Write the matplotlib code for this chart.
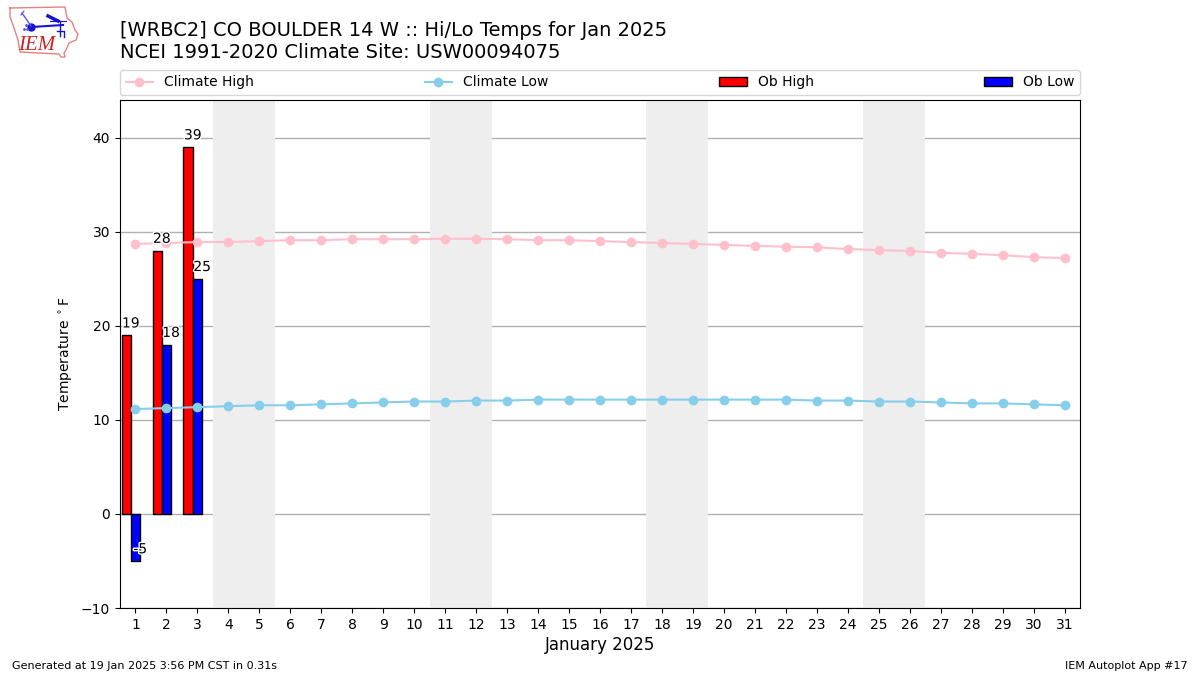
import matplotlib
matplotlib.use('Agg')
import matplotlib.pyplot as plt
import matplotlib.patheffects as pe
import numpy as np

# data
days = list(range(1, 32))
climate_high = [28.7, 28.8, 28.9, 28.9, 29.0, 29.1, 29.1, 29.2, 29.2, 29.2, 29.25, 29.25, 29.2, 29.1, 29.1, 29.0,
                28.9, 28.8, 28.7, 28.6, 28.5, 28.4, 28.35, 28.15, 28.05, 27.95, 27.75, 27.65, 27.5, 27.3, 27.2]
climate_low = [11.15, 11.25, 11.35, 11.45, 11.55, 11.55, 11.65, 11.75, 11.85, 11.95, 11.95, 12.05, 12.05, 12.15, 12.15, 12.15,
               12.15, 12.15, 12.15, 12.15, 12.15, 12.15, 12.05, 12.05, 11.95, 11.95, 11.85, 11.75, 11.75, 11.65, 11.55]
ob_days = [1, 2, 3]
ob_high = [19, 28, 39]
ob_low = [-5, 18, 25]
weekends = [(3.5, 5.5), (10.5, 12.5), (17.5, 19.5), (24.5, 26.5)]

fig = plt.figure(figsize=(12, 6.75), dpi=100)
ax = fig.add_axes([0.1, 67 / 675, 0.8, 508 / 675])

# weekend shading
for start, end in weekends:
    ax.axvspan(start, end, color='#eeeeee', lw=0, zorder=1)

ax.plot(days, climate_high, color='pink', marker='o', lw=1.5, ms=6, label='Climate High', zorder=4)
ax.plot(days, climate_low, color='skyblue', marker='o', lw=1.5, ms=6, label='Climate Low', zorder=4)

obx = np.array(ob_days)
ax.bar(obx - 0.3, ob_high, width=0.3, color='r', edgecolor='k', lw=1, label='Ob High', zorder=3)
ax.bar(obx, ob_low, width=0.3, color='b', edgecolor='k', lw=1, label='Ob Low', zorder=3)

# value labels
halo = [pe.withStroke(linewidth=2, foreground='white')]
for x, hi, lo in zip(ob_days, ob_high, ob_low):
    ax.text(x - 0.15, hi + 0.5, str(hi), ha='center', va='bottom', fontsize=10, path_effects=halo, zorder=5)
    ax.text(x + 0.15, lo + 0.5, str(lo), ha='center', va='bottom', fontsize=10, path_effects=halo, zorder=5)

ax.set_xlim(0.5, 31.5)
ax.set_ylim(-10, 44)
ax.set_xticks(days)
ax.set_yticks([-10, 0, 10, 20, 30, 40])
ax.tick_params(labelsize=10)
ax.grid(axis='y', color='#b0b0b0', lw=1, zorder=2)
ax.set_axisbelow(True)
ax.set_xlabel('January 2025', fontsize=12, labelpad=3)
ax.set_ylabel(r'Temperature $^\circ$F', fontsize=10, labelpad=4)

ax.legend(loc='lower left', bbox_to_anchor=(0, 1.0098, 1, 0.05), mode='expand', ncol=4, borderaxespad=0, fontsize=10)

# titles + footer
fig.text(0.1, 1 - 30 / 675, '[WRBC2] CO BOULDER 14 W :: Hi/Lo Temps for Jan 2025', fontsize=14, va='center')
fig.text(0.1, 1 - 52 / 675, 'NCEI 1991-2020 Climate Site: USW00094075', fontsize=14, va='center')
fig.text(0.01, 1 - 666 / 675, 'Generated at 19 Jan 2025 3:56 PM CST in 0.31s', fontsize=8, va='center')
fig.text(0.99, 1 - 666 / 675, 'IEM Autoplot App #17', fontsize=8, va='center', ha='right')

# IEM logo, rough redraw in pixel units
logo = fig.add_axes([0, 1 - 65 / 675, 90 / 1200, 65 / 675])
logo.set_xlim(0, 90)
logo.set_ylim(65, 0)
logo.axis('off')
iowa_x = [10, 65, 67, 72, 75, 78, 76, 69, 66, 64, 65, 61, 59, 20, 18, 13, 10, 10]
iowa_y = [8, 7, 18, 22, 30, 34, 40, 43, 50, 53, 57, 57, 54, 52, 40, 25, 17, 8]
logo.plot(iowa_x, iowa_y, color='#e58080', lw=1)
logo.plot([32, 47, 63], [27, 26, 25], color='#1515d0', lw=1.5)
logo.plot([31], [27], 'o', color='#1515d0', ms=5)
logo.plot([22, 31], [13, 26], color='#5555e0', lw=1)
logo.plot([21, 24], [15, 11], color='#5555e0', lw=0.8)
logo.plot([48, 58], [16, 21], color='#1515d0', lw=2.5)
logo.plot([50, 66], [21, 21], color='#1515d0', lw=0.8)
logo.plot([60, 60], [21, 36], color='#1515d0', lw=1)
logo.plot([57, 64, 64], [31, 31, 37], color='#1515d0', lw=1)
logo.plot([24, 26, 27], [29, 25, 29], '.', color='#5555e0', ms=2)
logo.text(37, 45, 'IEM', color='#d02020', family='Liberation Serif', style='italic', fontsize=15, ha='center', va='center')

fig.savefig('out.png')
